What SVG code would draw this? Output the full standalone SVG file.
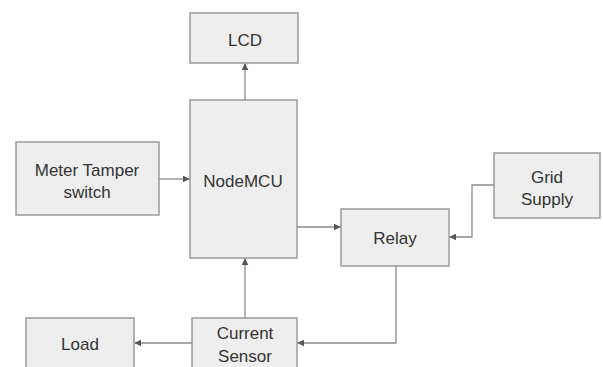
<svg xmlns="http://www.w3.org/2000/svg" width="603" height="367" viewBox="0 0 603 367">
<style>
.box{fill:#eeeeee;stroke:#9a9a9a;stroke-width:1.5}
.lbl{font-family:"Liberation Sans",Arial,sans-serif;font-size:17px;fill:#333;text-anchor:middle}
.con{fill:none;stroke:#8a8a8a;stroke-width:1.3}
</style>
<defs>
<marker id="arr" viewBox="0 0 10 10" refX="9" refY="5" markerWidth="7" markerHeight="7" markerUnits="userSpaceOnUse" orient="auto">
<path d="M0,0 L10,5 L0,10 z" fill="#555"/>
</marker>
</defs>
<rect width="603" height="367" fill="#ffffff"/>
<g id="lcd"><rect class="box" x="190" y="13" width="108" height="50"/><text class="lbl" x="245" y="46">LCD</text></g>
<g id="tamper"><rect class="box" x="16" y="142" width="143" height="73"/><text class="lbl" x="87" y="176">Meter Tamper</text><text class="lbl" x="87" y="198">switch</text></g>
<g id="nodemcu"><rect class="box" x="190" y="100" width="107" height="158"/><text class="lbl" x="243" y="187">NodeMCU</text></g>
<g id="relay"><rect class="box" x="341" y="209" width="108" height="57"/><text class="lbl" x="395" y="244">Relay</text></g>
<g id="grid"><rect class="box" x="494" y="153" width="106" height="65"/><text class="lbl" x="547" y="183">Grid</text><text class="lbl" x="547" y="205">Supply</text></g>
<g id="sensor"><rect class="box" x="192" y="318" width="105" height="52"/><text class="lbl" x="245" y="339">Current</text><text class="lbl" x="245" y="362">Sensor</text></g>
<g id="load"><rect class="box" x="26" y="318" width="108" height="52"/><text class="lbl" x="80" y="350">Load</text></g>
<g id="connectors">
<path class="con" d="M245,100 V64" marker-end="url(#arr)"/>
<path class="con" d="M159,179 H189" marker-end="url(#arr)"/>
<path class="con" d="M297,227 H340" marker-end="url(#arr)"/>
<path class="con" d="M494,185 H472 V237 H450" marker-end="url(#arr)"/>
<path class="con" d="M396,266 V343 H298" marker-end="url(#arr)"/>
<path class="con" d="M245,318 V259" marker-end="url(#arr)"/>
<path class="con" d="M192,343 H135" marker-end="url(#arr)"/>
</g>
</svg>
